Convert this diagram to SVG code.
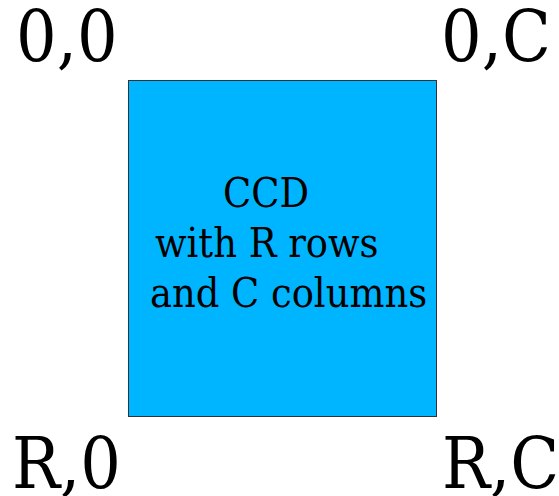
<svg xmlns="http://www.w3.org/2000/svg" width="559" height="496" viewBox="0 0 559 496">
<style>
.lbl{font-family:"DejaVu Serif",serif;font-stretch:condensed;font-size:71px;fill:#000}
.body{font-family:"DejaVu Serif",serif;font-stretch:condensed;font-size:41px;fill:#000}
</style>
<rect width="559" height="496" fill="#fff"/>
<g id="ccd">
<rect x="128.5" y="80.5" width="308" height="336" fill="#00b5ff" stroke="#333" stroke-width="1"/>
<text class="body" x="223" y="207">CCD</text>
<text class="body" x="155" y="257">with R rows</text>
<text class="body" x="150" y="307">and C columns</text>
</g>
<g id="corners">
<text class="lbl" x="16" y="61">0,0</text>
<text class="lbl" x="441" y="61">0,C</text>
<text class="lbl" x="12" y="488">R,0</text>
<text class="lbl" x="442" y="488">R,C</text>
</g>
</svg>
